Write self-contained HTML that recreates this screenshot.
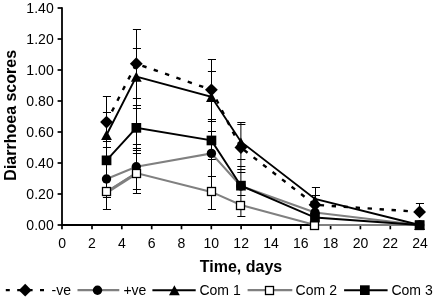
<!DOCTYPE html>
<html><head><meta charset="utf-8"><title>Diarrhoea scores</title>
<style>html,body{margin:0;padding:0;background:#fff}svg{display:block;will-change:transform}text{font-family:"Liberation Sans",Arial,Helvetica,sans-serif;fill:#000}</style></head><body>
<svg width="434" height="298" viewBox="0 0 434 298">
<rect width="434" height="298" fill="#fff"/>
<g stroke="#000" stroke-width="1.8" fill="none">
<line x1="62.0" y1="7.3" x2="62.0" y2="225.8"/>
<line x1="61.2" y1="225" x2="420.8" y2="225"/>
</g>
<g stroke="#000" stroke-width="1.7" fill="none">
<line x1="57.6" y1="225.0" x2="62.0" y2="225.0"/>
<line x1="57.6" y1="194.0" x2="62.0" y2="194.0"/>
<line x1="57.6" y1="163.0" x2="62.0" y2="163.0"/>
<line x1="57.6" y1="132.0" x2="62.0" y2="132.0"/>
<line x1="57.6" y1="101.0" x2="62.0" y2="101.0"/>
<line x1="57.6" y1="70.0" x2="62.0" y2="70.0"/>
<line x1="57.6" y1="39.0" x2="62.0" y2="39.0"/>
<line x1="57.6" y1="8.0" x2="62.0" y2="8.0"/>
<line x1="62.0" y1="225" x2="62.0" y2="229.3"/>
<line x1="92.0" y1="225" x2="92.0" y2="229.3"/>
<line x1="121.8" y1="225" x2="121.8" y2="229.3"/>
<line x1="151.7" y1="225" x2="151.7" y2="229.3"/>
<line x1="181.5" y1="225" x2="181.5" y2="229.3"/>
<line x1="211.3" y1="225" x2="211.3" y2="229.3"/>
<line x1="241.1" y1="225" x2="241.1" y2="229.3"/>
<line x1="271.0" y1="225" x2="271.0" y2="229.3"/>
<line x1="300.8" y1="225" x2="300.8" y2="229.3"/>
<line x1="330.6" y1="225" x2="330.6" y2="229.3"/>
<line x1="360.4" y1="225" x2="360.4" y2="229.3"/>
<line x1="390.3" y1="225" x2="390.3" y2="229.3"/>
<line x1="420.1" y1="225" x2="420.1" y2="229.3"/>
</g>
<g font-size="13.7" text-anchor="end">
<text transform="translate(53.70,230.00) scale(0.9690,1)" font-size="14.5" text-anchor="end">0.00</text>
<text transform="translate(53.70,199.00) scale(0.9690,1)" font-size="14.5" text-anchor="end">0.20</text>
<text transform="translate(53.70,168.00) scale(0.9690,1)" font-size="14.5" text-anchor="end">0.40</text>
<text transform="translate(53.70,137.00) scale(0.9690,1)" font-size="14.5" text-anchor="end">0.60</text>
<text transform="translate(53.70,106.00) scale(0.9690,1)" font-size="14.5" text-anchor="end">0.80</text>
<text transform="translate(53.70,75.00) scale(0.9690,1)" font-size="14.5" text-anchor="end">1.00</text>
<text transform="translate(53.70,44.00) scale(0.9690,1)" font-size="14.5" text-anchor="end">1.20</text>
<text transform="translate(53.70,13.00) scale(0.9690,1)" font-size="14.5" text-anchor="end">1.40</text>
</g>
<g font-size="13.7" text-anchor="middle">
<text transform="translate(62.20,247.70) scale(0.9690,1)" font-size="14.5" text-anchor="middle">0</text>
<text transform="translate(92.02,247.70) scale(0.9690,1)" font-size="14.5" text-anchor="middle">2</text>
<text transform="translate(121.85,247.70) scale(0.9690,1)" font-size="14.5" text-anchor="middle">4</text>
<text transform="translate(151.67,247.70) scale(0.9690,1)" font-size="14.5" text-anchor="middle">6</text>
<text transform="translate(181.50,247.70) scale(0.9690,1)" font-size="14.5" text-anchor="middle">8</text>
<text transform="translate(211.32,247.70) scale(0.9690,1)" font-size="14.5" text-anchor="middle">10</text>
<text transform="translate(241.14,247.70) scale(0.9690,1)" font-size="14.5" text-anchor="middle">12</text>
<text transform="translate(270.97,247.70) scale(0.9690,1)" font-size="14.5" text-anchor="middle">14</text>
<text transform="translate(300.79,247.70) scale(0.9690,1)" font-size="14.5" text-anchor="middle">16</text>
<text transform="translate(330.62,247.70) scale(0.9690,1)" font-size="14.5" text-anchor="middle">18</text>
<text transform="translate(360.44,247.70) scale(0.9690,1)" font-size="14.5" text-anchor="middle">20</text>
<text transform="translate(390.26,247.70) scale(0.9690,1)" font-size="14.5" text-anchor="middle">22</text>
<text transform="translate(420.09,247.70) scale(0.9690,1)" font-size="14.5" text-anchor="middle">24</text>
</g>
<text transform="translate(241.00,271.60) scale(0.9639,1)" font-size="16.6" font-weight="bold" text-anchor="middle">Time, days</text>
<text transform="translate(15.90,115.30) rotate(-90) scale(0.9639,1)" font-size="16.6" font-weight="bold" text-anchor="middle">Diarrhoea scores</text>
<g stroke="#000" stroke-width="1" fill="none">
<line x1="106.5" y1="96.5" x2="106.5" y2="209.4"/>
<line x1="102.9" y1="96.5" x2="111.0" y2="96.5"/>
<line x1="102.9" y1="112.5" x2="111.0" y2="112.5"/>
<line x1="102.9" y1="141.5" x2="111.0" y2="141.5"/>
<line x1="102.9" y1="147.5" x2="111.0" y2="147.5"/>
<line x1="102.9" y1="157.5" x2="111.0" y2="157.5"/>
<line x1="102.9" y1="178.5" x2="111.0" y2="178.5"/>
<line x1="102.9" y1="197.5" x2="111.0" y2="197.5"/>
<line x1="102.9" y1="209.5" x2="111.0" y2="209.5"/>
<line x1="136.5" y1="29.2" x2="136.5" y2="193.0"/>
<line x1="132.9" y1="29.5" x2="141.0" y2="29.5"/>
<line x1="132.9" y1="48.5" x2="141.0" y2="48.5"/>
<line x1="132.9" y1="98.5" x2="141.0" y2="98.5"/>
<line x1="132.9" y1="105.5" x2="141.0" y2="105.5"/>
<line x1="132.9" y1="108.5" x2="141.0" y2="108.5"/>
<line x1="132.9" y1="144.5" x2="141.0" y2="144.5"/>
<line x1="132.9" y1="148.5" x2="141.0" y2="148.5"/>
<line x1="132.9" y1="150.5" x2="141.0" y2="150.5"/>
<line x1="132.9" y1="153.5" x2="141.0" y2="153.5"/>
<line x1="132.9" y1="189.5" x2="141.0" y2="189.5"/>
<line x1="132.9" y1="193.5" x2="141.0" y2="193.5"/>
<line x1="211.5" y1="59.9" x2="211.5" y2="209.1"/>
<line x1="207.9" y1="59.5" x2="216.0" y2="59.5"/>
<line x1="207.9" y1="71.5" x2="216.0" y2="71.5"/>
<line x1="207.9" y1="119.5" x2="216.0" y2="119.5"/>
<line x1="207.9" y1="121.5" x2="216.0" y2="121.5"/>
<line x1="207.9" y1="131.5" x2="216.0" y2="131.5"/>
<line x1="207.9" y1="159.5" x2="216.0" y2="159.5"/>
<line x1="207.9" y1="176.5" x2="216.0" y2="176.5"/>
<line x1="207.9" y1="209.5" x2="216.0" y2="209.5"/>
<line x1="240.9" y1="122.4" x2="240.9" y2="216.1"/>
<line x1="237.3" y1="122.5" x2="245.4" y2="122.5"/>
<line x1="237.3" y1="124.5" x2="245.4" y2="124.5"/>
<line x1="237.3" y1="159.5" x2="245.4" y2="159.5"/>
<line x1="237.3" y1="166.5" x2="245.4" y2="166.5"/>
<line x1="237.3" y1="169.5" x2="245.4" y2="169.5"/>
<line x1="237.3" y1="172.5" x2="245.4" y2="172.5"/>
<line x1="237.3" y1="195.5" x2="245.4" y2="195.5"/>
<line x1="237.3" y1="216.5" x2="245.4" y2="216.5"/>
<line x1="315.5" y1="187.6" x2="315.5" y2="215.0"/>
<line x1="311.9" y1="187.5" x2="320.0" y2="187.5"/>
<line x1="311.9" y1="195.5" x2="320.0" y2="195.5"/>
<line x1="419.5" y1="203.6" x2="419.5" y2="218.0"/>
<line x1="415.9" y1="203.5" x2="424.0" y2="203.5"/>
</g>
<polyline points="106.5,122.1 136.3,63.7 211.4,89.8 240.9,147.6" fill="none" stroke="#000" stroke-width="2.4" stroke-dasharray="4.4 7.6" stroke-dashoffset="0.0"/>
<polyline points="240.9,147.6 315.0,204.8" fill="none" stroke="#000" stroke-width="2.4" stroke-dasharray="4.4 7.6" stroke-dashoffset="8.0"/>
<polyline points="315.0,204.8 419.6,211.9" fill="none" stroke="#000" stroke-width="2.4" stroke-dasharray="4.4 7.6" stroke-dashoffset="7.3"/>
<polyline points="106.5,179.0 136.3,166.8 211.4,153.4 240.9,186.0 315.0,212.5 419.6,225.0" fill="none" stroke="#808080" stroke-width="2.05"/>
<polyline points="106.5,135.0 136.3,76.5 211.4,96.8 240.9,141.7 315.0,199.0 419.6,225.0" fill="none" stroke="#000" stroke-width="1.9"/>
<polyline points="106.5,191.9 136.3,173.1 211.4,191.9 240.9,205.0 315.0,225.0 419.6,225.0" fill="none" stroke="#808080" stroke-width="2.05"/>
<line x1="106.5" y1="192.6" x2="136.3" y2="173.4" stroke="#808080" stroke-width="3"/>
<polyline points="106.5,160.3 136.3,127.8 211.4,140.4 240.9,185.7 315.0,217.5 419.6,225.0" fill="none" stroke="#000" stroke-width="1.9"/>
<polygon points="106.5,115.7 112.9,122.1 106.5,128.5 100.1,122.1" fill="#000"/>
<polygon points="136.3,57.3 142.7,63.7 136.3,70.1 129.9,63.7" fill="#000"/>
<polygon points="211.4,83.4 217.8,89.8 211.4,96.2 205.0,89.8" fill="#000"/>
<polygon points="240.9,141.2 247.3,147.6 240.9,154.0 234.5,147.6" fill="#000"/>
<polygon points="315.0,198.4 321.4,204.8 315.0,211.2 308.6,204.8" fill="#000"/>
<polygon points="419.6,205.5 426.0,211.9 419.6,218.3 413.2,211.9" fill="#000"/>
<circle cx="106.5" cy="179.0" r="4.7" fill="#000"/>
<circle cx="136.3" cy="166.8" r="4.7" fill="#000"/>
<circle cx="211.4" cy="153.4" r="4.7" fill="#000"/>
<circle cx="240.9" cy="186.0" r="4.7" fill="#000"/>
<circle cx="315.0" cy="212.5" r="4.7" fill="#000"/>
<circle cx="419.6" cy="225.0" r="4.7" fill="#000"/>
<polygon points="106.5,130.0 111.9,140.0 101.1,140.0" fill="#000"/>
<polygon points="136.3,71.7 141.7,81.7 130.9,81.7" fill="#000"/>
<polygon points="211.4,92.0 216.8,102.0 206.0,102.0" fill="#000"/>
<polygon points="240.9,137.6 246.3,147.6 235.5,147.6" fill="#000"/>
<polygon points="315.0,195.5 320.4,205.5 309.6,205.5" fill="#000"/>
<polygon points="419.6,220.0 425.0,230.0 414.2,230.0" fill="#000"/>
<rect x="102.5" y="187.5" width="8" height="8" fill="#fff" stroke="#000" stroke-width="1.3"/>
<rect x="132.5" y="169.5" width="8" height="8" fill="#fff" stroke="#000" stroke-width="1.3"/>
<rect x="207.5" y="187.5" width="8" height="8" fill="#fff" stroke="#000" stroke-width="1.3"/>
<rect x="236.5" y="201.5" width="8" height="8" fill="#fff" stroke="#000" stroke-width="1.3"/>
<rect x="310.5" y="221.5" width="8" height="8" fill="#fff" stroke="#000" stroke-width="1.3"/>
<rect x="415.5" y="221.5" width="8" height="8" fill="#fff" stroke="#000" stroke-width="1.3"/>
<rect x="101.7" y="155.5" width="9.7" height="9.7" fill="#000"/>
<rect x="131.5" y="123.0" width="9.7" height="9.7" fill="#000"/>
<rect x="206.6" y="135.6" width="9.7" height="9.7" fill="#000"/>
<rect x="236.1" y="180.8" width="9.7" height="9.7" fill="#000"/>
<rect x="310.1" y="212.7" width="9.7" height="9.7" fill="#000"/>
<rect x="414.8" y="220.2" width="9.7" height="9.7" fill="#000"/>
<line x1="5.8" y1="290.2" x2="46" y2="290.2" stroke="#000" stroke-width="2.2" stroke-dasharray="4 7.4"/>
<polygon points="25.2,283.8 31.6,290.2 25.2,296.6 18.8,290.2" fill="#000"/>
<line x1="77.5" y1="290.2" x2="119.3" y2="290.2" stroke="#808080" stroke-width="2.2"/>
<circle cx="97.5" cy="290.2" r="4.7" fill="#000"/>
<line x1="152.4" y1="290.2" x2="195.7" y2="290.2" stroke="#000" stroke-width="1.9"/>
<polygon points="174.4,285.2 179.8,295.2 169.0,295.2" fill="#000"/>
<line x1="247.6" y1="290.2" x2="292.3" y2="290.2" stroke="#808080" stroke-width="2.2"/>
<rect x="265.5" y="286.5" width="8" height="8" fill="#fff" stroke="#000" stroke-width="1.3"/>
<line x1="344.1" y1="290.2" x2="387.6" y2="290.2" stroke="#000" stroke-width="1.9"/>
<rect x="360.0" y="285.3" width="9.7" height="9.7" fill="#000"/>
<g font-size="13.7">
<text transform="translate(51.60,295.20) scale(0.9690,1)" font-size="14.5" text-anchor="start">-ve</text>
<text transform="translate(123.40,295.20) scale(0.9690,1)" font-size="14.5" text-anchor="start">+ve</text>
<text transform="translate(199.40,295.20) scale(0.9690,1)" font-size="14.5" text-anchor="start">Com 1</text>
<text transform="translate(295.60,295.20) scale(0.9690,1)" font-size="14.5" text-anchor="start">Com 2</text>
<text transform="translate(391.40,295.20) scale(0.9690,1)" font-size="14.5" text-anchor="start">Com 3</text>
</g>
</svg></body></html>
